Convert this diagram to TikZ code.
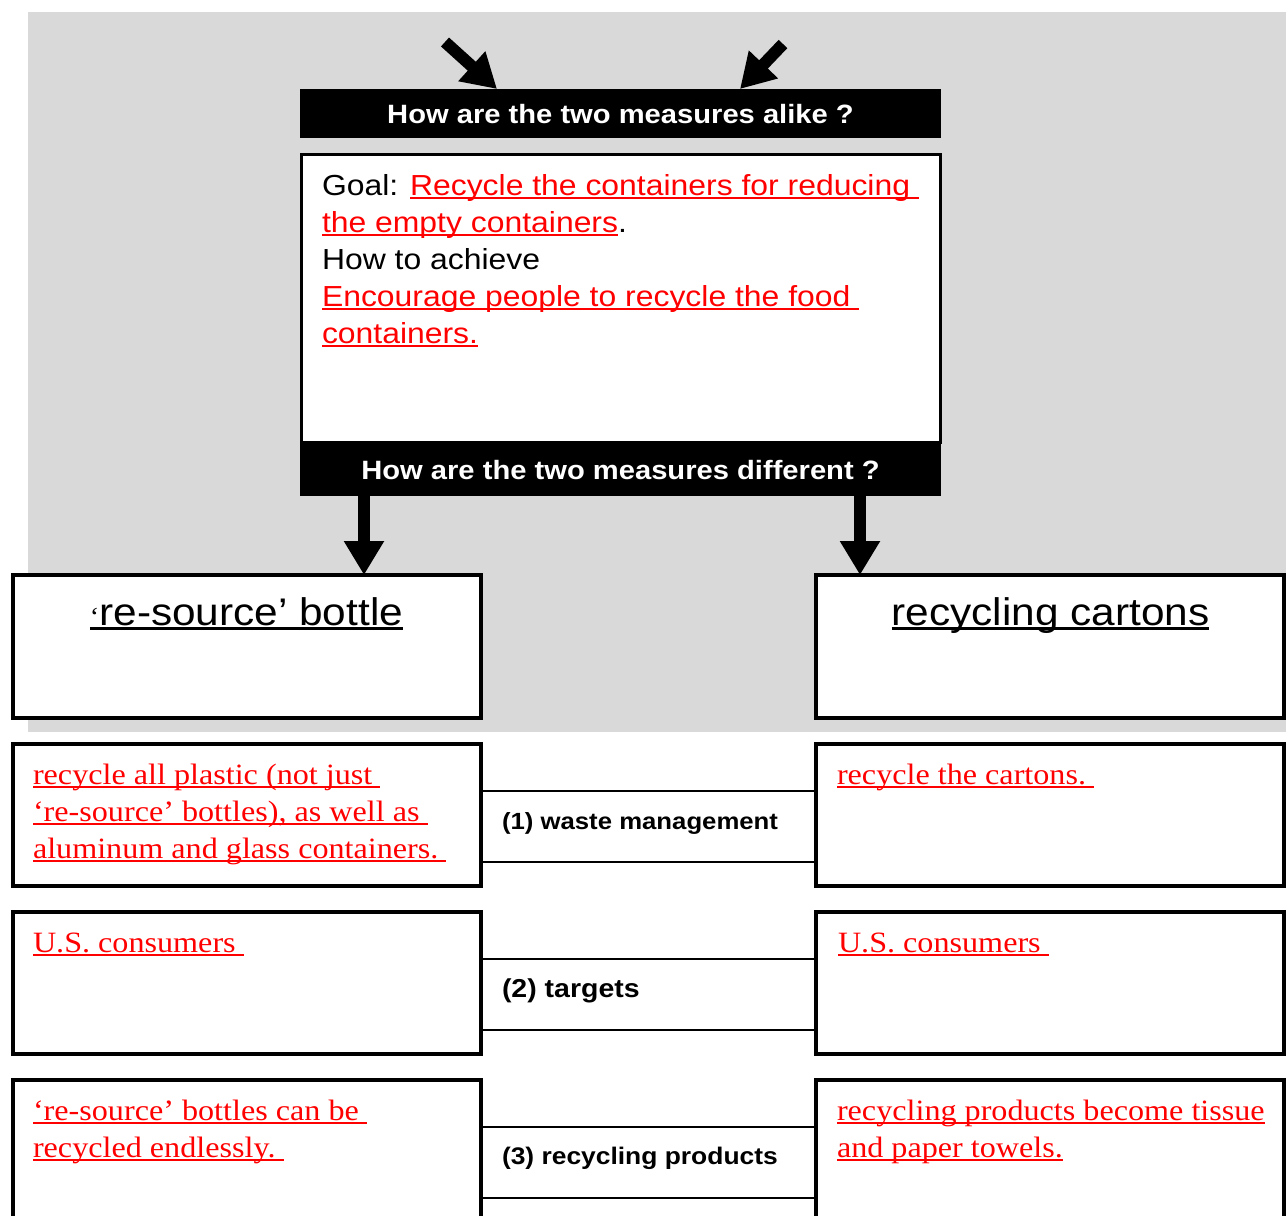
\documentclass[tikz,border=0pt]{standalone}
\usepackage{fontspec}
\usetikzlibrary{arrows.meta}
\newfontfamily\sansf[FakeStretch=1.1]{Liberation Sans}
\newfontfamily\serf[FakeStretch=1.09]{Liberation Serif}
\definecolor{bggray}{HTML}{D9D9D9}
\definecolor{redt}{HTML}{FF0000}
\newcommand\ulx[1]{\setbox0\hbox{#1}\rlap{\rule[-0.14em]{\wd0}{0.08em}}\box0}
\newcommand\tstr{\rule{0pt}{24pt}}
\begin{document}
\begin{tikzpicture}[x=1pt,y=-1pt,
  every node/.style={inner sep=0pt, outer sep=0pt},
  frame/.style={draw=black, line width=4pt, fill=white, anchor=north west},
  goalframe/.style={draw=black, line width=3pt, fill=white, anchor=north west},
  bar/.style={fill=black, anchor=north west},
  midband/.style={minimum width=335pt, minimum height=71pt},
  sep/.style={draw=black, line width=2.2pt},
  fat/.style={draw=black, line width=12pt, -{Triangle[length=34pt,width=38pt]}},
  headtxt/.style={font=\sansf\bfseries\fontsize{26.5}{30}\selectfont, text=white, anchor=base},
  titletxt/.style={font=\sansf\fontsize{38.5}{44}\selectfont, text=black, anchor=base},
  goaltxt/.style={font=\sansf\fontsize{29}{37}\selectfont, text=black, align=left, anchor=north west},
  redtxt/.style={font=\serf\fontsize{29.5}{37}\selectfont, text=redt, align=left, anchor=north west},
  midtxt/.style={text=black, anchor=base west}
]
\useasboundingbox (0,0) rectangle (1286,1216);
\fill[white] (0,0) rectangle (1286,1216);
\fill[bggray] (28,12) rectangle (1286,732);

% top part
\node[bar, minimum width=641pt, minimum height=49pt] (alike) at (300,89) {};
\node[headtxt] (alikeT) at (620.5,123.5) {How are the two measures alike ?};
\node[goalframe, minimum width=639pt, minimum height=288pt] (goal) at (301,154) {};
\node[goaltxt] (goalT) at (322,171) {\tstr Goal: {\color{redt}\ulx{Recycle the containers for reducing\ }}\\
  {\color{redt}\ulx{the empty containers}}.\\
  How to achieve\\
  {\color{redt}\ulx{Encourage people to recycle the food\ }}\\
  {\color{redt}\ulx{containers.}}};
\node[bar, minimum width=641pt, minimum height=53pt] (diff) at (300,443) {};
\node[headtxt] (diffT) at (620.5,479) {How are the two measures different ?};

\coordinate (la) at (445,42);
\coordinate (ltip) at (497,0);
\coordinate (ra) at (783,44);
\coordinate (rtip) at (740,0);
\draw[fat] (la) -- (alike.north -| ltip);
\draw[fat] (ra) -- (alike.north -| rtip);

% title boxes
\node[frame, minimum width=468.5pt, minimum height=143pt] (boxL) at (12.5,575) {};
\node[frame, minimum width=468pt, minimum height=143pt] (boxR) at (816,575) {};
\node[titletxt] (titleL) at (246.5,625) {\ulx{{\serf\fontsize{26}{30}\selectfont ‘}re-source’ bottle}};
\node[titletxt] (titleR) at (1050.5,625) {\ulx{recycling cartons}};

\coordinate (lx) at (364,0);
\coordinate (rx) at (860,0);
\draw[fat] (diff.south -| lx) -- (boxL.north -| lx);
\draw[fat] (diff.south -| rx) -- (boxR.north -| rx);

% row 1
\node[frame, minimum width=468.5pt, minimum height=142pt] (r1L) at (12.5,744) {};
\node[frame, minimum width=468pt, minimum height=142pt] (r1R) at (816,744) {};
\node[midband] (m1) at (648.5,826.5) {};
\draw[sep] (m1.north west) -- (m1.north east) (m1.south west) -- (m1.south east);
\node[midtxt, font=\sansf\bfseries\fontsize{23.4}{28}\selectfont] (m1T) at (502,829) {(1) waste management};
\node[redtxt] (r1LT) at (33,760) {\tstr\ulx{recycle all plastic (not just\ }\\
  \ulx{‘re-source’ bottles), as well as\ }\\
  \ulx{aluminum and glass containers.\ }};
\node[redtxt] (r1RT) at (837,760) {\tstr\ulx{recycle the cartons.\ }};

% row 2
\node[frame, minimum width=468.5pt, minimum height=142pt] (r2L) at (12.5,912) {};
\node[frame, minimum width=468pt, minimum height=142pt] (r2R) at (816,912) {};
\node[midband] (m2) at (648.5,994.5) {};
\draw[sep] (m2.north west) -- (m2.north east) (m2.south west) -- (m2.south east);
\node[midtxt, font=\sansf\bfseries\fontsize{25.9}{28}\selectfont] (m2T) at (502,997) {(2) targets};
\node[redtxt] (r2LT) at (33,928) {\tstr\ulx{U.S. consumers\ }};
\node[redtxt] (r2RT) at (838,928) {\tstr\ulx{U.S. consumers\ }};

% row 3
\node[frame, minimum width=468.5pt, minimum height=142pt] (r3L) at (12.5,1080) {};
\node[frame, minimum width=468pt, minimum height=142pt] (r3R) at (816,1080) {};
\node[midband] (m3) at (648.5,1162.5) {};
\draw[sep] (m3.north west) -- (m3.north east) (m3.south west) -- (m3.south east);
\node[midtxt, font=\sansf\bfseries\fontsize{24}{28}\selectfont] (m3T) at (502,1164) {(3) recycling products};
\node[redtxt] (r3LT) at (33,1096) {\tstr\ulx{‘re-source’ bottles can be\ }\\
  \ulx{recycled endlessly.\ }};
\node[redtxt] (r3RT) at (837,1096) {\tstr\ulx{recycling products become tissue}\\
  \ulx{and paper towels.}};
\end{tikzpicture}
\end{document}
